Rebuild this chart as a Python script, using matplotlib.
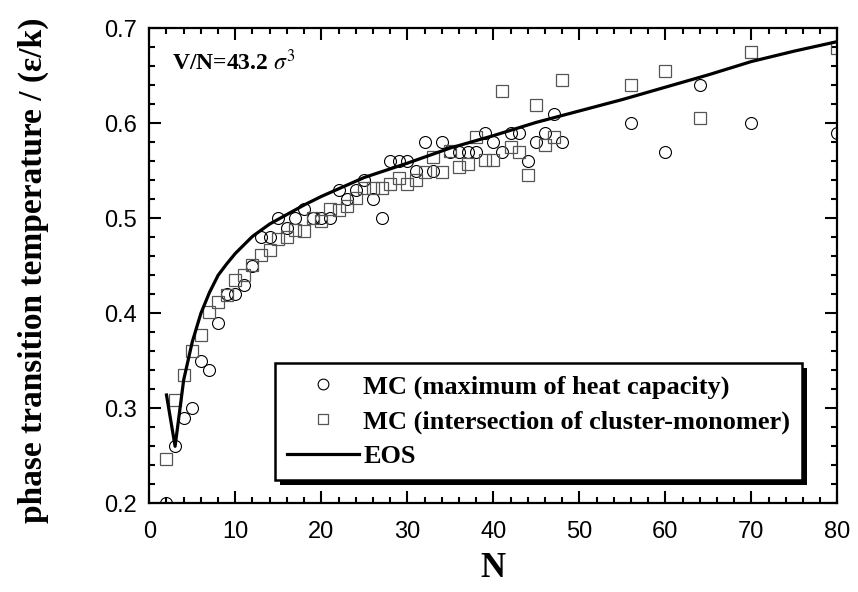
import matplotlib
matplotlib.use("Agg")
import matplotlib.pyplot as plt
from matplotlib.ticker import MultipleLocator
from matplotlib.patches import Rectangle
from matplotlib.transforms import IdentityTransform

# MC: maximum of heat capacity
n_heat = [2, 3, 4, 5, 6, 7, 8, 9, 10, 11, 12, 13, 14, 15, 16, 17, 18, 19, 20, 21,
          22, 23, 24, 25, 26, 27, 28, 29, 30, 31, 32, 33, 34, 35, 36, 37, 38, 39, 40,
          41, 42, 43, 44, 45, 46, 47, 48, 56, 60, 64, 70, 80]
t_heat = [0.20, 0.26, 0.29, 0.30, 0.35, 0.34, 0.39, 0.42, 0.42, 0.43, 0.45, 0.48, 0.48,
          0.50, 0.49, 0.50, 0.51, 0.50, 0.50, 0.50, 0.53, 0.52, 0.53, 0.54, 0.52, 0.50,
          0.56, 0.56, 0.56, 0.55, 0.58, 0.55, 0.58, 0.57, 0.57, 0.57, 0.57, 0.59, 0.58,
          0.57, 0.59, 0.59, 0.56, 0.58, 0.59, 0.61, 0.58, 0.60, 0.57, 0.64, 0.60, 0.59]

# MC: intersection of cluster-monomer
n_inter = [2, 3, 4, 5, 6, 7, 8, 9, 10, 11, 12, 13, 14, 15, 16, 17, 18, 19, 20, 21,
           22, 23, 24, 25, 26, 27, 28, 29, 30, 31, 32, 33, 34, 35, 36, 37, 38, 39, 40,
           41, 42, 43, 44, 45, 46, 47, 48, 56, 60, 64, 70, 80]
t_inter = [0.247, 0.309, 0.335, 0.360, 0.377, 0.401, 0.412, 0.419, 0.435, 0.440, 0.451,
           0.461, 0.467, 0.478, 0.480, 0.488, 0.487, 0.500, 0.497, 0.510, 0.509, 0.513,
           0.521, 0.532, 0.532, 0.532, 0.536, 0.542, 0.536, 0.540, 0.549, 0.565, 0.549,
           0.571, 0.554, 0.557, 0.586, 0.561, 0.561, 0.634, 0.575, 0.570, 0.546, 0.619,
           0.577, 0.586, 0.646, 0.640, 0.655, 0.606, 0.675, 0.679]

# EOS curve
n_eos = [2, 3, 4, 5, 6, 7, 8, 9, 10, 12, 14, 16, 18, 20, 22, 25, 30, 35, 40, 45,
         50, 55, 60, 65, 70, 75, 80]
t_eos = [0.314, 0.260, 0.330, 0.370, 0.400, 0.422, 0.440, 0.452, 0.463, 0.481, 0.494,
         0.504, 0.514, 0.523, 0.531, 0.543, 0.558, 0.574, 0.587, 0.601, 0.613, 0.625,
         0.638, 0.651, 0.665, 0.676, 0.686]

plt.rcParams['mathtext.fontset'] = 'stix'
serif = 'Liberation Serif'
sans = 'Liberation Sans'

fig = plt.figure(figsize=(8.58, 5.92), dpi=100)
ax = fig.add_axes([0.174, 0.1498, 0.8019, 0.8024])

ax.plot(n_heat, t_heat, 'o', ms=8.6, mfc='none', mec='black', mew=0.8,
        label='MC (maximum of heat capacity)')
ax.plot(n_inter, t_inter, 's', ms=8.0, mfc='none', mec='#555555', mew=0.9,
        label='MC (intersection of cluster-monomer)')
ax.plot(n_eos, t_eos, '-', color='black', lw=2.3, label='EOS')

ax.set_xlim(0, 80)
ax.set_ylim(0.2, 0.7)
ax.xaxis.set_major_locator(MultipleLocator(10))
ax.xaxis.set_minor_locator(MultipleLocator(2))
ax.yaxis.set_major_locator(MultipleLocator(0.1))
ax.yaxis.set_minor_locator(MultipleLocator(0.02))
ax.tick_params(which='both', direction='in', top=True, right=True, width=1.5)
ax.tick_params(which='major', length=8.5)
ax.tick_params(which='minor', length=4.3)
ax.tick_params(axis='x', pad=13)
ax.tick_params(axis='y', pad=9)
for lab in ax.get_xticklabels() + ax.get_yticklabels():
    lab.set_fontfamily(sans)
    lab.set_fontsize(17)
for s in ax.spines.values():
    s.set_linewidth(1.6)

ax.set_xlabel('N', fontfamily=serif, fontweight='bold', fontsize=25)
ax.xaxis.set_label_coords(0.5, -0.1025)
ax.set_ylabel('phase transition temperature / (ε/k)', fontfamily=serif,
              fontweight='bold', fontsize=24)
ax.yaxis.set_label_coords(-0.146, 0.491)

ax.text(0.033, 0.9276, r'V/N=43.2 $\sigma^3$', transform=ax.transAxes,
        fontfamily=serif, fontweight='bold', fontsize=17, va='center')

leg = ax.legend(loc='upper left', bbox_to_anchor=(0.1827, 0.2954), borderaxespad=0,
                prop={'family': serif, 'weight': 'bold', 'size': 19},
                handlelength=2.75, handletextpad=0.15, labelspacing=0.42,
                borderpad=0.45, markerscale=0.9,
                fancybox=False, edgecolor='black', framealpha=1)
leg.get_frame().set_linewidth(1.8)
leg.set_zorder(6)

# solid black drop shadow, offset down-right, drawn under the legend
fig.canvas.draw()
bb = leg.get_window_extent()
shadow = Rectangle((bb.x0 + 5, bb.y0 - 5), bb.width, bb.height,
                   transform=IdentityTransform(), facecolor='black',
                   edgecolor='none', zorder=5.5)
ax.add_patch(shadow)

fig.savefig('out.png', dpi=100)
